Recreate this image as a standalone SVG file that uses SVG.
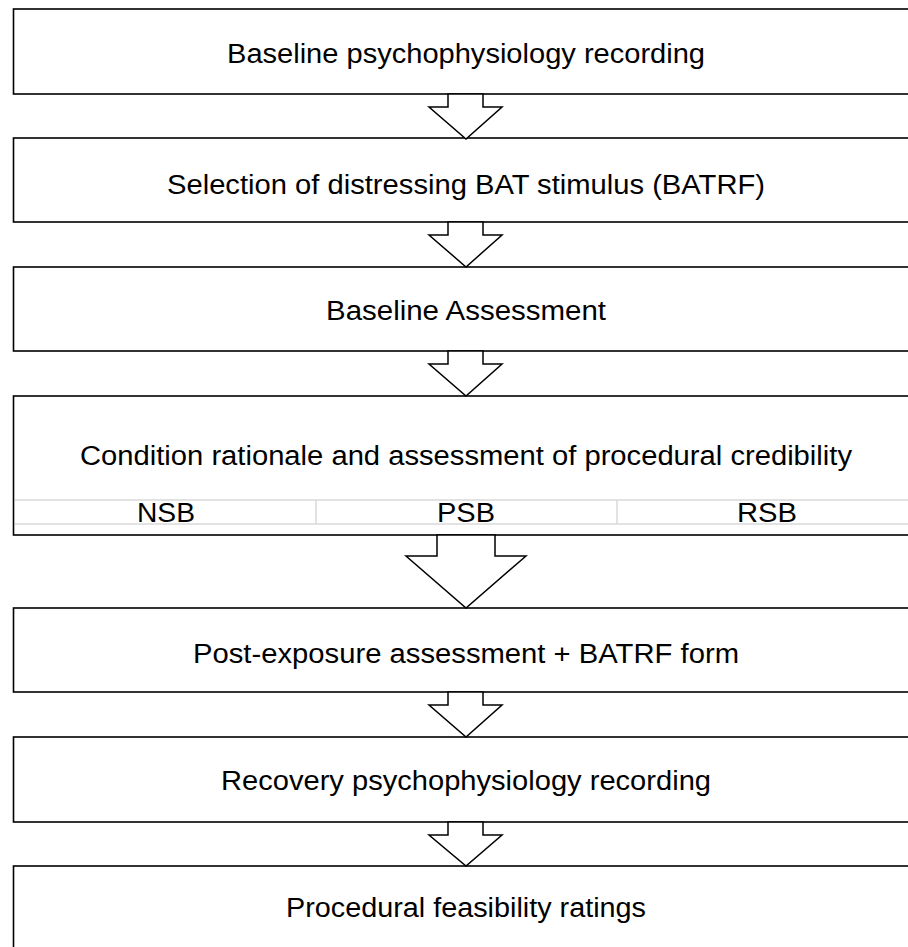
<svg xmlns="http://www.w3.org/2000/svg" width="908" height="947" viewBox="0 0 908 947">
<style>
.box{fill:#fff;stroke:#000;stroke-width:1.6}
.arrow{fill:#fff;stroke:#000;stroke-width:1.5;stroke-linejoin:miter}
.grid{stroke:#d9d9d9;stroke-width:1.5;fill:none}
text{font-family:"Liberation Sans",Arial,sans-serif;font-size:27px;fill:#000;text-anchor:middle}
</style>
<rect width="908" height="947" fill="#fff"/>
<g id="n1"><rect class="box" x="13.5" y="9" width="906" height="85"/><text x="466" y="63" textLength="478" lengthAdjust="spacingAndGlyphs">Baseline psychophysiology recording</text></g>
<g id="n2"><rect class="box" x="13.5" y="138" width="906" height="84"/><text x="466" y="194" textLength="598" lengthAdjust="spacingAndGlyphs">Selection of distressing BAT stimulus (BATRF)</text></g>
<g id="n3"><rect class="box" x="13.5" y="267" width="906" height="84"/><text x="466" y="320" textLength="280" lengthAdjust="spacingAndGlyphs">Baseline Assessment</text></g>
<g id="n4"><rect class="box" x="13.5" y="396" width="906" height="139"/><text x="466" y="465" textLength="772" lengthAdjust="spacingAndGlyphs">Condition rationale and assessment of procedural credibility</text>
<path class="grid" d="M15 500H918M15 524H918M316 500V524M617 500V524"/>
<text x="166" y="522" textLength="58" lengthAdjust="spacingAndGlyphs">NSB</text><text x="466" y="522" textLength="58" lengthAdjust="spacingAndGlyphs">PSB</text><text x="767" y="522" textLength="60" lengthAdjust="spacingAndGlyphs">RSB</text></g>
<g id="n5"><rect class="box" x="13.5" y="608" width="906" height="84"/><text x="466" y="663" textLength="546" lengthAdjust="spacingAndGlyphs">Post-exposure assessment + BATRF form</text></g>
<g id="n6"><rect class="box" x="13.5" y="737" width="906" height="85"/><text x="466" y="790" textLength="490" lengthAdjust="spacingAndGlyphs">Recovery psychophysiology recording</text></g>
<g id="n7"><rect class="box" x="13.5" y="866" width="906" height="100"/><text x="466" y="917" textLength="360" lengthAdjust="spacingAndGlyphs">Procedural feasibility ratings</text></g>
<g id="connectors">
<polygon class="arrow" points="448,94 448,107 429,107 466,139 502,107 483,107 483,94"/>
<polygon class="arrow" points="448,222 448,235 429,235 466,267 502,235 483,235 483,222"/>
<polygon class="arrow" points="448,351 448,364 429,364 466,396 502,364 483,364 483,351"/>
<polygon class="arrow" points="437,535 437,556 406,556 466,608 526,556 495,556 495,535"/>
<polygon class="arrow" points="448,692 448,705 429,705 466,737 502,705 483,705 483,692"/>
<polygon class="arrow" points="448,822 448,835 429,835 466,866 502,835 483,835 483,822"/>
</g>
</svg>
